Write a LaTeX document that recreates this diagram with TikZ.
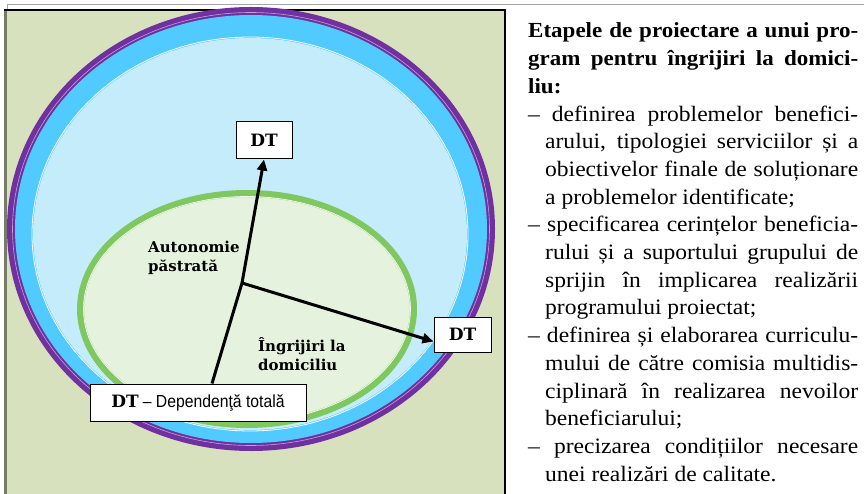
\documentclass[tikz,border=0pt]{standalone}
\usepackage{fontspec}
\setmainfont{Liberation Serif}
\newfontfamily\rtxt[FakeStretch=1.07]{Liberation Serif}
\newfontfamily\labfont{DejaVu Serif}
\newfontfamily\boxsans[FakeStretch=0.9]{Liberation Sans}
\usetikzlibrary{arrows.meta}
\definecolor{panelc}{RGB}{216,225,190}
\definecolor{purplec}{RGB}{112,48,160}
\definecolor{cyanc}{RGB}{80,202,255}
\definecolor{lblue}{RGB}{197,236,251}
\definecolor{greenc}{RGB}{126,200,95}
\definecolor{lgreen}{RGB}{229,242,221}
\newcommand\jfull[1]{\hbox to 330pt{#1}}
\newcommand\jind[1]{\hbox{\kern17pt\hbox to 313pt{#1}}}
\newcommand\lfull[1]{\hbox{#1}}
\newcommand\lind[1]{\hbox{\kern17pt #1}}
\newcommand\hd{\bfseries\fontsize{21.5}{27.7}\selectfont}
\tikzset{
  dtbox/.style={draw=black, line width=1pt, fill=white, inner sep=0pt, font=\labfont\bfseries\fontsize{17}{20}\selectfont},
  lab/.style={anchor=base west, inner sep=0pt, font=\labfont\bfseries\fontsize{15}{19.5}\selectfont},
  arr/.style={line width=3pt, -{Triangle[length=11pt,width=10pt]}},
  plainln/.style={line width=3pt}
}
\begin{document}
\begin{tikzpicture}[x=1pt,y=-1pt]
\useasboundingbox (0,0) rectangle (864,494);
\fill[white] (0,0) rectangle (864,494);
% frame
\draw[gray!70, line width=1pt] (7,10) -- (7,5) -- (864,5);
\draw[fill=panelc, line width=1.2pt] (5,10) rectangle (505,500);
\fill[black!45!panelc] (4,11) rectangle (7,500);
% rings
\fill[purplec] (251,229) ellipse [x radius=244pt, y radius=222pt];
\draw[purplec!45!white, line width=0.6pt] (251,229) ellipse [x radius=238.5pt, y radius=216.5pt];
\fill[cyanc] (251,229) ellipse [x radius=236pt, y radius=214pt];
\fill[lblue] (250,234) ellipse [x radius=217pt, y radius=196pt];
\draw[white, line width=0.8pt] (250,234) ellipse [x radius=218pt, y radius=197pt];
% green
\fill[lgreen] (247,309) ellipse [x radius=167pt, y radius=116pt];
\draw[greenc, line width=7pt] (247,309) ellipse [x radius=166.5pt, y radius=115.5pt];
\draw[white, line width=0.7pt] (247,309) ellipse [x radius=163.5pt, y radius=112.5pt];
% labels
\node[lab] (auto) at (148,252) {\vtop{\hbox{Autonomie}\hbox{păstrată}}};
\node[lab] (ingr) at (258,351) {\vtop{\hbox{Îngrijiri la}\hbox{domiciliu}}};
% boxes
\node[dtbox, minimum width=56pt, minimum height=37pt] (dtt) at (264,140.5) {DT};
\node[dtbox, minimum width=57pt, minimum height=35pt] (dtr) at (462.5,334.5) {DT};
\node[dtbox, minimum width=216pt, minimum height=37pt] (dtb) at (198,402.5)
  {DT\hspace{4pt}{\boxsans\mdseries\fontsize{17.5}{20}\selectfont – Dependenţă totală}};
% connectors
\coordinate (c) at (242,283);
\draw[plainln] ([xshift=14pt]dtb.north) -- (c);
\draw[arr] (c) -- (dtt.south);
\draw[arr] (c) -- ([yshift=-7pt]dtr.west);
% right text
\node[anchor=base west, inner sep=0pt] (txt) at (528,38) {\vtop{\rtxt\fontsize{22}{27.7}\selectfont
\jfull{\hd Etapele de proiectare a unui pro-}
\jfull{\hd gram pentru îngrijiri la domici-}
\lfull{\hd liu:}
\jfull{– definirea problemelor benefici-}
\jind{arului, tipologiei serviciilor și a}
\jind{obiectivelor finale de soluționare}
\lind{a problemelor identificate;}
\jfull{– specificarea cerințelor beneficia-}
\jind{rului și a suportului grupului de}
\jind{sprijin în implicarea realizării}
\lind{programului proiectat;}
\jfull{– definirea și elaborarea curriculu-}
\jind{mului de către comisia multidis-}
\jind{ciplinară în realizarea nevoilor}
\lind{beneficiarului;}
\jfull{– precizarea condițiilor necesare}
\lind{unei realizări de calitate.}
}};
\end{tikzpicture}
\end{document}
